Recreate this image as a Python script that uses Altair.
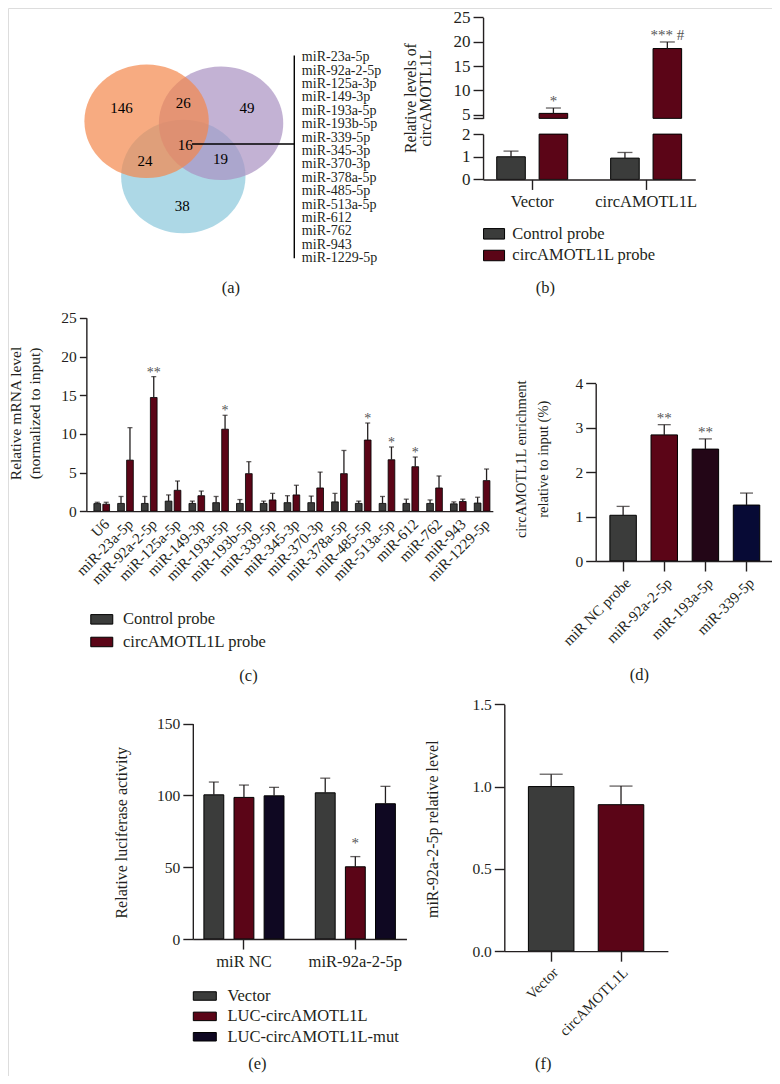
import altair as alt
import pandas as pd

FONT = "Liberation Serif"
INK = "#231f20"
STAR = "#555555"
GRAY = "#3b3c3b"
RED = "#5b0517"
MAROON = "#230617"
NAVY = "#070a35"
DARKPURPLE = "#0f0822"

W, H = 764, 1068
SX, SY = W / 780.0, H / 1084.0
def px(x): return x * SX
def py(y): return y * SY

# ---------------- data ----------------
# (a) Venn diagram
venn_sets = ["Set 3", "Set 2", "Set 1"]
venn_set_u = [0.493, 1.0, 0.0]
venn_set_v = [0.737, 0.026, 0.0]
venn_colors = ["#8ac7db", "#a991c2", "#f4874b"]
venn_counts = ["146", "26", "49", "16", "24", "19", "38"]
venn_count_u = [-0.336, 0.493, 1.349, 0.52, -0.02, 0.993, 0.48]
venn_count_v = [-0.171, -0.25, -0.171, 0.316, 0.526, 0.5, 1.13]
mirna_list = ["miR-23a-5p", "miR-92a-2-5p", "miR-125a-3p", "miR-149-3p", "miR-193a-5p",
              "miR-193b-5p", "miR-339-5p", "miR-345-3p", "miR-370-3p", "miR-378a-5p",
              "miR-485-5p", "miR-513a-5p", "miR-612", "miR-762", "miR-943", "miR-1229-5p"]
pointer_u = [0.61, 1.984]
pointer_v = [0.303, 0.303]
bracket_u = [1.984, 1.984]
bracket_v = [-0.88, 1.83]

# (b)
b_groups = ["Vector", "circAMOTL1L"]
b_series = ["Control probe", "circAMOTL1L probe"]
b_mean = [1.0, 5.3, 0.94, 18.6]
b_sd = [0.25, 1.1, 0.25, 1.35]
b_sig = ["", "*", "", "***  #"]
b_low_ticks = [0, 1, 2]
b_high_ticks = [4.28, 5, 10, 15, 20, 25]

# (c)
c_groups = ["U6", "miR-23a-5p", "miR-92a-2-5p", "miR-125a-5p", "miR-149-3p", "miR-193a-5p",
            "miR-193b-5p", "miR-339-5p", "miR-345-3p", "miR-370-3p", "miR-378a-5p",
            "miR-485-5p", "miR-513a-5p", "miR-612", "miR-762", "miR-943", "miR-1229-5p"]
c_series = ["Control probe", "circAMOTL1L probe"]
c_ctrl_mean = [0.98, 1.0, 1.0, 1.3, 1.0, 1.1, 1.0, 1.0, 1.1, 1.1, 1.2, 1.0, 1.0, 1.0, 1.0, 0.95, 1.05]
c_ctrl_sd = [0.17, 0.9, 0.9, 0.8, 0.3, 0.8, 0.5, 0.3, 0.9, 0.85, 1.1, 0.3, 0.9, 0.55, 0.45, 0.25, 0.75]
c_probe_mean = [0.9, 6.6, 14.7, 2.7, 2.0, 10.6, 4.85, 1.45, 2.1, 3.0, 4.85, 9.2, 6.65, 5.75, 3.0, 1.25, 3.95]
c_probe_sd = [0.25, 4.2, 2.7, 1.2, 0.6, 1.8, 1.55, 0.85, 1.25, 2.05, 3.0, 2.2, 1.65, 1.25, 1.55, 0.3, 1.5]
c_sig = ["", "", "**", "", "", "*", "", "", "", "", "", "*", "*", "*", "", "", ""]

# (d)
d_cats = ["miR NC probe", "miR-92a-2-5p", "miR-193a-5p", "miR-339-5p"]
d_mean = [1.03, 2.84, 2.52, 1.26]
d_sd = [0.2, 0.23, 0.23, 0.27]
d_sig = ["", "**", "**", ""]

# (e)
e_groups = ["miR NC", "miR-92a-2-5p"]
e_series = ["Vector", "LUC-circAMOTL1L", "LUC-circAMOTL1L-mut"]
e_mean = [100.4, 98.6, 99.7, 101.8, 50.3, 94.2]
e_sd = [8.9, 8.6, 5.9, 10.2, 7.1, 12.1]
e_sig = ["", "", "", "", "*", ""]

# (f)
f_cats = ["Vector", "circAMOTL1L"]
f_mean = [1.0, 0.89]
f_sd = [0.075, 0.113]

# ---------------- helpers ----------------
AX = dict(domain=True, domainColor=INK, domainWidth=1.4, tickColor=INK, tickWidth=1.4,
          labelColor=INK, labelFont=FONT, titleFont=FONT, titleColor=INK, labelOverlap=False,
          titleFontWeight="normal", grid=False, zindex=1)


def left_axis(x_ref, values, font, tick=10, title=None, tx=None, ty=None, tsize=16, lh=None,
              fmt=None, expr=None):
    kw = dict(orient="left", offset=-px(x_ref), values=values, tickSize=tick, labelFontSize=font,
              labelPadding=3, **AX)
    if fmt:
        kw["format"] = fmt
    if expr:
        kw["labelExpr"] = expr
    if title is not None:
        kw.update(title=title, titleX=px(tx) - px(x_ref), titleY=py(ty), titleAngle=270,
                  titleBaseline="middle", titleAlign="center", titleFontSize=tsize)
        if lh:
            kw["titleLineHeight"] = lh
    else:
        kw["title"] = None
    return alt.Axis(**kw)


def bottom_axis(y_ref, font, tick, angle, title, tx, ty, pad=4):
    kw = dict(orient="bottom", offset=py(y_ref) - H, labelAngle=angle, labelFontSize=font,
              labelPadding=pad, title=title, titleX=px(tx), titleY=py(ty) - py(y_ref),
              titleAngle=0, titleBaseline="middle", titleAlign="center", titleFontSize=16.5, **AX)
    if tick > 0:
        kw["tickSize"] = tick
    else:
        kw["ticks"] = False
    return alt.Axis(**kw)


def legend_at(x_ref, y_center, sym_w, sym_h, box, offset, row_gap, font=16.5):
    a = sym_w / box
    b = sym_h / box
    return alt.Legend(orient="none", legendX=px(x_ref), legendY=py(y_center) - box / 2.0,
                      title=None, symbolType=f"M{-a},{-b}H{a}V{b}H{-a}Z", symbolSize=box * box,
                      symbolStrokeColor="black", symbolStrokeWidth=1, symbolOpacity=1,
                      labelFont=FONT, labelFontSize=font, labelColor=INK, labelOffset=offset,
                      labelLimit=400, rowPadding=row_gap * SY - box, padding=0)


def yscale(domain, r0, r1, clamp=False):
    return alt.Scale(domain=domain, range=[py(r0), py(r1)], clamp=clamp, nice=False, zero=False)


def bar_panel_layers(base, X, XO, C, sc, yax, cap, star_size, star_dy, stroke_w=1.0,
                     bar_filter=None, err_filter=None, with_stars=True):
    enc = dict(x=X)
    if XO is not None:
        enc["xOffset"] = XO
    ymean = alt.Y("mean:Q", scale=sc, axis=yax)
    yup = alt.Y("upper:Q", scale=sc, axis=yax)
    bsrc = base.transform_filter(bar_filter) if bar_filter else base
    esrc = base.transform_filter(err_filter) if err_filter else base
    layers = [
        bsrc.mark_bar(stroke="black", strokeWidth=stroke_w).encode(y=ymean, color=C, **enc),
        esrc.mark_rule(color=INK, strokeWidth=1.3).encode(y=ymean, y2="upper:Q", **enc),
        esrc.mark_tick(size=cap, thickness=1.3, color=INK).encode(y=yup, **enc),
    ]
    if with_stars:
        layers.append(
            base.transform_filter("datum.sig != ''").mark_text(
                font=FONT, fontSize=star_size, color=STAR, baseline="alphabetic", dy=star_dy
            ).encode(y=yup, text="sig:N", **enc))
    return layers


# ---------------- (a) Venn ----------------
venn_df = pd.DataFrame({"set": venn_sets, "u": venn_set_u, "v": venn_set_v, "k": [0, 1, 2]})
count_df = pd.DataFrame({"n": venn_counts, "u": venn_count_u, "v": venn_count_v})
lines_df = pd.DataFrame({"u": [pointer_u[0], bracket_u[0]], "u2": [pointer_u[1], bracket_u[1]],
                         "v": [pointer_v[0], bracket_v[0]], "v2": [pointer_v[1], bracket_v[1]]})
list_df = pd.DataFrame({"name": mirna_list})

ven_x = alt.Scale(domain=[-1, 2], range=[px(65.5), px(293.5)], nice=False, zero=False)
ven_y = alt.Scale(domain=[-1, 2], range=[py(39), py(267)], nice=False, zero=False)
ax_a = alt.Axis(orient="bottom", offset=py(284) - H, domain=False, ticks=False, labels=False,
                grid=False, title="(a)", titleX=px(227), titleY=0, titleAngle=0,
                titleBaseline="middle", titleAlign="center", titleFont=FONT, titleFontSize=16.5,
                titleFontWeight="normal", titleColor=INK)
VX = alt.X("u:Q", scale=ven_x, axis=ax_a)
VY = alt.Y("v:Q", scale=ven_y, axis=None)
ELL = "M-1,0A1,0.913,0,1,0,1,0A1,0.913,0,1,0,-1,0Z"

circles = alt.Chart(venn_df).mark_point(shape=ELL, size=px(127) ** 2, filled=True, opacity=0.7,
                                        strokeWidth=0).encode(
    x=VX, y=VY, order=alt.Order("k:Q"),
    color=alt.Color("set:N", scale=alt.Scale(domain=venn_sets, range=venn_colors), legend=None))
counts = alt.Chart(count_df).mark_text(font=FONT, fontSize=15, color="black").encode(
    x=VX, y=VY, text="n:N")
lines = alt.Chart(lines_df).mark_rule(color="black", strokeWidth=1.4).encode(
    x=VX, x2="u2:Q", y=VY, y2="v2:Q")
panel_a = alt.layer(circles, lines, counts)

list_a = alt.Chart(list_df).mark_text(font=FONT, fontSize=14, color=INK, align="left",
                                      baseline="middle").encode(
    x=alt.value(px(300)),
    y=alt.Y("name:N", scale=alt.Scale(type="point", domain=mirna_list, range=[py(50), py(254)],
                                      padding=0), axis=None),
    text="name:N")

# ---------------- (b) ----------------
b_df = pd.DataFrame({"group": [g for g in b_groups for s in b_series],
                     "series": [s for g in b_groups for s in b_series],
                     "mean": b_mean, "sd": b_sd, "sig": b_sig})
b_base = alt.Chart(b_df).transform_calculate(upper="datum.mean + datum.sd")
BX = alt.X("group:N", scale=alt.Scale(domain=b_groups, range=[px(485), px(701.7)],
                                      paddingInner=0.377, paddingOuter=0.12),
           axis=bottom_axis(174, 16.5, 10, 0, "(b)", 548, 284))
BXO = alt.XOffset("series:N", scale=alt.Scale(domain=b_series, paddingInner=0.326, paddingOuter=0))
BC = alt.Color("series:N", scale=alt.Scale(domain=b_series, range=[GRAY, RED]),
               legend=legend_at(485, 228.7, 21, 10.5, 21, 7.3, 23))
b_low_sc = yscale([0, 2], 174, 128, clamp=True)
b_high_sc = yscale([4.28, 25], 112, 9.5, clamp=True)
b_low_ax = left_axis(485, b_low_ticks, 17, expr="format(datum.value, '.0f')")
b_high_ax = left_axis(485, b_high_ticks, 17, fmt="d",
                      expr="datum.value < 4.5 ? '' : datum.label",
                      title=["Relative levels of", "circAMOTL1L"], tx=411, ty=91,
                      tsize=15.7, lh=14.7)
b_low = alt.layer(*bar_panel_layers(b_base, BX, BXO, BC, b_low_sc, b_low_ax, 15, 15, -2,
                                    err_filter="datum.mean < 2", with_stars=False))
b_high = alt.layer(*bar_panel_layers(b_base, BX, BXO, BC, b_high_sc, b_high_ax, 15, 15, -2,
                                     bar_filter="datum.mean > 4.28",
                                     err_filter="datum.mean > 4.28"))
panel_b = alt.layer(b_low, b_high).resolve_scale(y="independent").resolve_axis(y="independent")

# ---------------- (c) ----------------
c_rows = []
for i, g in enumerate(c_groups):
    c_rows.append({"group": g, "series": c_series[0], "mean": c_ctrl_mean[i], "sd": c_ctrl_sd[i], "sig": ""})
    c_rows.append({"group": g, "series": c_series[1], "mean": c_probe_mean[i], "sd": c_probe_sd[i], "sig": c_sig[i]})
c_df = pd.DataFrame(c_rows)
c_base = alt.Chart(c_df).transform_calculate(upper="datum.mean + datum.sd")
CX = alt.X("group:N", scale=alt.Scale(domain=c_groups, range=[px(80), px(495)],
                                      paddingInner=0.341, paddingOuter=0.22, align=0.72),
           axis=bottom_axis(510.7, 15, 0, -45, "(c)", 245, 678, pad=5))
CXO = alt.XOffset("series:N", scale=alt.Scale(domain=c_series, paddingInner=0.25, paddingOuter=0))
CC = alt.Color("series:N", scale=alt.Scale(domain=c_series, range=[GRAY, RED]),
               legend=legend_at(84, 620, 22, 9.5, 22, 9.7, 25))
c_sc = yscale([0, 25], 510.7, 314.5)
c_ax = left_axis(80, [0, 5, 10, 15, 20, 25], 15.5, tick=7,
                 title=["Relative mRNA level", "(normalized to input)"], tx=8, ty=411,
                 tsize=15.5, lh=19)
panel_c = alt.layer(*bar_panel_layers(c_base, CX, CXO, CC, c_sc, c_ax, 5, 14, 0, stroke_w=0.8))

# ---------------- (d) ----------------
d_df = pd.DataFrame({"cat": d_cats, "mean": d_mean, "sd": d_sd, "sig": d_sig})
d_base = alt.Chart(d_df).transform_calculate(upper="datum.mean + datum.sd")
DX = alt.X("cat:N", scale=alt.Scale(domain=d_cats, range=[px(600), px(782)],
                                    paddingInner=0.357, paddingOuter=0.345),
           axis=bottom_axis(561.3, 15, 10, -45, "(d)", 644, 676.7))
d_sc = yscale([0, 4], 561.3, 381)
d_ax = left_axis(600, [0, 1, 2, 3, 4], 15.5,
                 title=["circAMOTL1L enrichment", "relative to input (%)"], tx=524.5,
                 ty=457.5, tsize=14.5, lh=22)
DC = alt.Color("cat:N", scale=alt.Scale(domain=d_cats, range=[GRAY, RED, MAROON, NAVY]), legend=None)
panel_d = alt.layer(*bar_panel_layers(d_base, DX, None, DC, d_sc, d_ax, 13, 15, -2))

# ---------------- (e) ----------------
e_df = pd.DataFrame({"group": [g for g in e_groups for s in e_series],
                     "series": [s for g in e_groups for s in e_series],
                     "mean": e_mean, "sd": e_sd, "sig": e_sig})
e_base = alt.Chart(e_df).transform_calculate(upper="datum.mean + datum.sd")
EX = alt.X("group:N", scale=alt.Scale(domain=e_groups, range=[px(188.7), px(406.8)],
                                      paddingInner=0.281, paddingOuter=0.0994),
           axis=bottom_axis(945, 16.5, 10, 0, "(e)", 254, 1071))
EXO = alt.XOffset("series:N", scale=alt.Scale(domain=e_series, paddingInner=0.34, paddingOuter=0))
EC = alt.Color("series:N", scale=alt.Scale(domain=e_series, range=[GRAY, RED, DARKPURPLE]),
               legend=legend_at(190.2, 1002.3, 23, 8.5, 20, 12.1, 21.7))
e_sc = yscale([0, 150], 945, 726.3)
e_ax = left_axis(188.7, [0, 50, 100, 150], 15.5,
                 title="Relative luciferase activity", tx=115.7, ty=836.7, tsize=16)
panel_e = alt.layer(*bar_panel_layers(e_base, EX, EXO, EC, e_sc, e_ax, 10, 15, -9))

# ---------------- (f) ----------------
f_df = pd.DataFrame({"cat": f_cats, "mean": f_mean, "sd": f_sd, "sig": ["", ""]})
f_base = alt.Chart(f_df).transform_calculate(upper="datum.mean + datum.sd")
FX = alt.X("cat:N", scale=alt.Scale(domain=f_cats, range=[px(506.7), px(673.7)],
                                    paddingInner=0.348, paddingOuter=0.345),
           axis=bottom_axis(957.3, 14.5, 10, -45, "(f)", 546, 1071))
f_sc = yscale([0, 1.5], 957.3, 706.7)
f_ax = left_axis(506.7, [0, 0.5, 1.0, 1.5], 15.5, fmt=".1f",
                 title="miR-92a-2-5p relative level", tx=433.3, ty=833, tsize=16)
FC = alt.Color("cat:N", scale=alt.Scale(domain=f_cats, range=[GRAY, RED]), legend=None)
panel_f = alt.layer(*bar_panel_layers(f_base, FX, None, FC, f_sc, f_ax, 23, 15, -2,
                                      with_stars=False))

chart = alt.layer(panel_a, list_a, panel_b, panel_c, panel_d, panel_e, panel_f).resolve_scale(
    x="independent", y="independent", xOffset="independent", color="independent"
).resolve_axis(x="independent", y="independent").resolve_legend(color="independent").properties(
    width=W, height=H, autosize=alt.AutoSizeParams(type="none"), padding=0
).configure_view(stroke=None).configure(font=FONT)

chart.save("out.html", embed_options={"renderer": "svg", "actions": False})
